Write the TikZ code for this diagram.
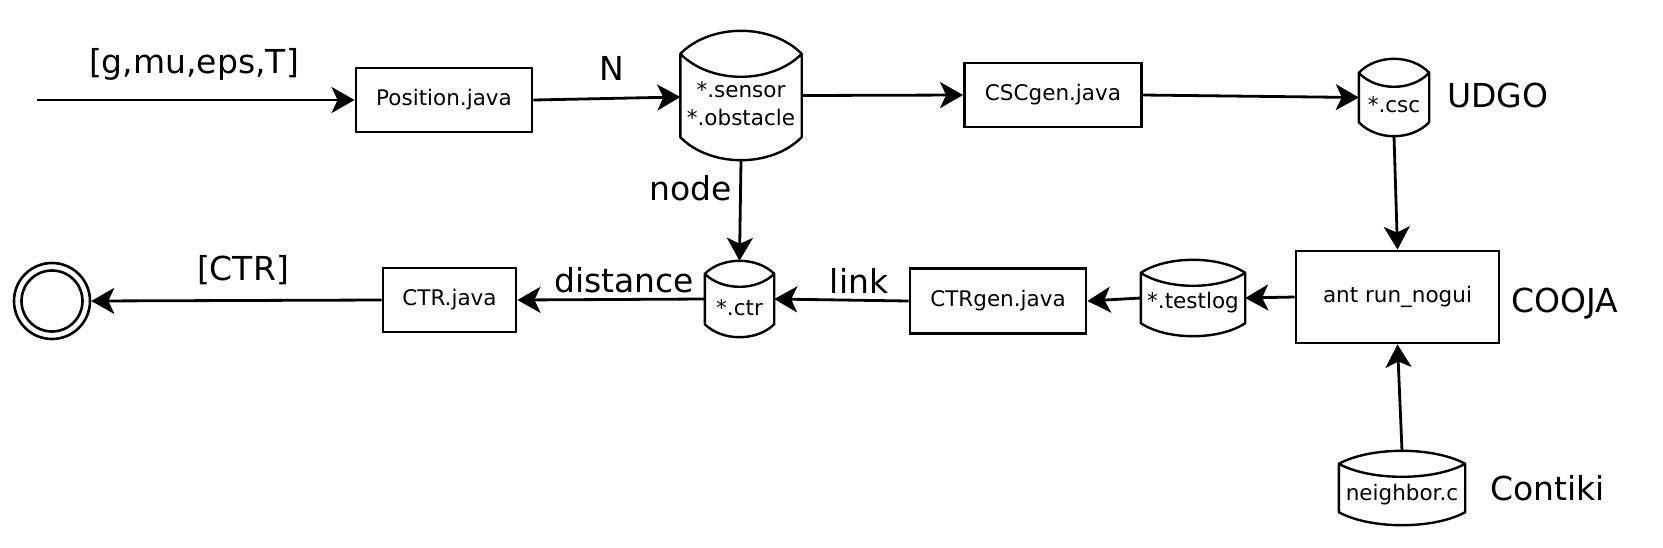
\documentclass[tikz,border=0pt]{standalone}
\usepackage{fontspec}
\setmainfont{DejaVu Sans}
\usetikzlibrary{arrows.meta,calc}
\tikzset{
  proc/.style={draw, line width=2.9pt, font=\fontsize{21.5}{28}\selectfont, inner sep=0pt},
  store/.style={draw=none, font=\fontsize{21.5}{28}\selectfont, inner sep=0pt},
  lab/.style={font=\fontsize{33}{39}\selectfont, inner sep=0pt},
  flow/.style={line width=2.8pt, -{Stealth[length=23pt,width=26pt,inset=6pt]}},
  cylline/.style={line width=2.4pt, line join=round},
  ring/.style={circle, draw, line width=2.6pt, inner sep=0pt},
}
\newcommand\cylt[2]{\raisebox{-#1}[\height][\depth]{#2}}
\newcommand\cylshape[2]{%
  \draw[cylline] let \p1=(#1.north west), \p2=(#1.south east) in
    ({\x1},{\y1-#2pt})
      .. controls ({\x1+(\x2-\x1)/4},{\y1+#2pt/3}) and ({\x2-(\x2-\x1)/4},{\y1+#2pt/3}) .. ({\x2},{\y1-#2pt})
      .. controls ({\x2-(\x2-\x1)/4},{\y1-7*#2pt/3}) and ({\x1+(\x2-\x1)/4},{\y1-7*#2pt/3}) .. ({\x1},{\y1-#2pt})
      -- ({\x1},{\y2+#2pt})
      .. controls ({\x1+(\x2-\x1)/4},{\y2-#2pt/3}) and ({\x2-(\x2-\x1)/4},{\y2-#2pt/3}) .. ({\x2},{\y2+#2pt})
      -- ({\x2},{\y1-#2pt});%
}
\begin{document}
\begin{tikzpicture}[x=1pt,y=-1pt]
\useasboundingbox (0,0) rectangle (1663,547);
% boxes
\node[proc, minimum width=176pt, minimum height=64pt] (pos) at (444,100) {Position.java};
\node[proc, minimum width=177pt, minimum height=64pt] (cscgen) at (1053,95) {CSCgen.java};
\node[proc, minimum width=203pt, minimum height=92pt] (ant) at (1397.5,297) {ant run\_nogui};
\node[proc, minimum width=176pt, minimum height=65pt] (ctrgen) at (998,301) {CTRgen.java};
\node[proc, minimum width=133pt, minimum height=64pt] (ctrjava) at (449.5,300) {CTR.java};
% stores
\node[store, minimum width=121pt, minimum height=129pt] (sensor) at (741,95.5)
  {\cylt{10pt}{\begin{tabular}{@{}c@{}}*.sensor\\{}*.obstacle\end{tabular}}};
\node[store, minimum width=70pt, minimum height=77pt] (csc) at (1394,97.5) {\cylt{7pt}{*.csc}};
\node[store, minimum width=126pt, minimum height=74pt] (nb) at (1402,488) {\cylt{7pt}{neighbor.c}};
\node[store, minimum width=104pt, minimum height=76pt] (testlog) at (1193,298) {\cylt{5pt}{*.testlog}};
\node[store, minimum width=69pt, minimum height=76pt] (ctr) at (739.5,299) {\cylt{9pt}{*.ctr}};
\cylshape{sensor}{23}
\cylshape{csc}{14}
\cylshape{nb}{13}
\cylshape{testlog}{13}
\cylshape{ctr}{13}
% end state
\node[ring, minimum size=76pt] (end) at (52,301) {};
\node[ring, minimum size=61pt] (endin) at (end.center) {};
% labels
\node[lab, anchor=base] (lg) at (194,73) {[g,mu,eps,T]};
\node[lab, anchor=base] (ln) at (612,80) {N};
\node[lab, anchor=base west] (ludgo) at (1447,107) {UDGO};
\node[lab, anchor=base west] (lcooja) at (1511,312) {COOJA};
\node[lab, anchor=base west] (lcontiki) at (1490,500) {Contiki};
\node[lab, anchor=base] (lnode) at (691,200) {node};
\node[lab, anchor=base] (ldist) at (624,292) {distance};
\node[lab, anchor=base] (llink) at (859,293) {link};
\node[lab, anchor=base] (lctr) at (243,280) {[CTR]};
% connectors
\coordinate (in) at (37,100);
\draw[flow] (in) -- (pos.west);
\draw[flow] (pos.east) -- ([yshift=-1.5pt]sensor.west);
\draw[flow] (sensor.east) -- (cscgen.west);
\draw[flow] (cscgen.east) -- (csc.west);
\draw[flow] (csc.south) -- (ant.north);
\draw[flow] (nb.north) -- (ant.south);
\draw[flow] (ant.west) -- (testlog.east);
\draw[flow] (testlog.west) -- (ctrgen.east);
\draw[flow] (ctrgen.west) -- (ctr.east);
\draw[flow] (sensor.south) -- (ctr.north);
\draw[flow] (ctr.west) -- (ctrjava.east);
\draw[flow] (ctrjava.west) -- (end.east);
\end{tikzpicture}
\end{document}
